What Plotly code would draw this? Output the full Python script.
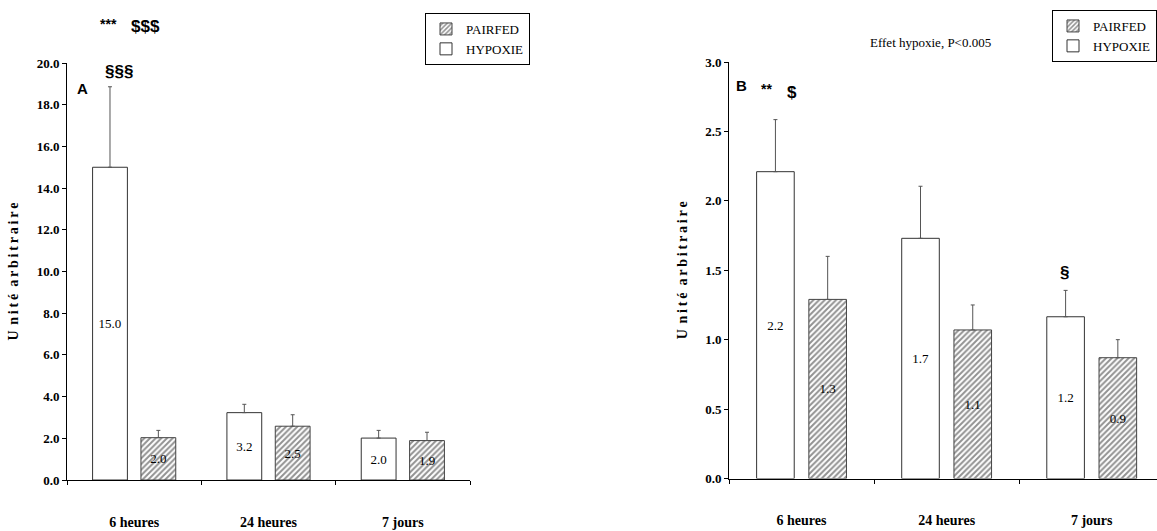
import plotly.graph_objects as go

W, H = 1157, 531

categories = ["6 heures", "24 heures", "7 jours"]

# Panel A
hyp_A = [15.0, 3.23, 2.01]
hyp_A_err = [3.86, 0.40, 0.37]
hyp_A_lbl = ["15.0", "3.2", "2.0"]
pf_A = [2.03, 2.58, 1.89]
pf_A_err = [0.35, 0.55, 0.40]
pf_A_lbl = ["2.0", "2.5", "1.9"]

# Panel B
hyp_B = [2.21, 1.73, 1.165]
hyp_B_err = [0.375, 0.375, 0.19]
hyp_B_lbl = ["2.2", "1.7", "1.2"]
pf_B = [1.29, 1.07, 0.87]
pf_B_err = [0.31, 0.18, 0.13]
pf_B_lbl = ["1.3", "1.1", "0.9"]

SERIF = "Liberation Serif, Times New Roman, serif"
SANS = "Liberation Sans Narrow, Liberation Sans, Arial, sans-serif"


def px(x):
    return x / W


def py(y):
    return 1 - y / H


fig = go.Figure()


def add_panel(xa, ya, hyp, hyp_err, hyp_lbl, pf, pf_err, pf_lbl, legend):
    err_style = dict(type="data", symmetric=False, arrayminus=[0] * 3,
                     color="#555555", thickness=1, width=2)
    fig.add_trace(go.Bar(
        x=categories, y=hyp, name="HYPOXIE", xaxis=xa, yaxis=ya, legend=legend,
        marker=dict(color="white", line=dict(color="#333333", width=1)),
        error_y=dict(array=hyp_err, **err_style),
        text=hyp_lbl, textposition="inside", insidetextanchor="middle",
        textfont=dict(family=SERIF, size=13, color="black"),
        constraintext="none", hoverinfo="y",
    ))
    fig.add_trace(go.Bar(
        x=categories, y=pf, name="PAIRFED", xaxis=xa, yaxis=ya, legend=legend,
        marker=dict(color="white", line=dict(color="#444444", width=1),
                    pattern=dict(shape="/", fgcolor="#262626", bgcolor="white",
                                 size=4, solidity=0.5)),
        error_y=dict(array=pf_err, **err_style),
        text=pf_lbl, textposition="inside", insidetextanchor="middle",
        textfont=dict(family=SERIF, size=13, color="black"),
        constraintext="none", hoverinfo="y",
    ))


add_panel("x", "y", hyp_A, hyp_A_err, hyp_A_lbl, pf_A, pf_A_err, pf_A_lbl, "legend")
add_panel("x2", "y2", hyp_B, hyp_B_err, hyp_B_lbl, pf_B, pf_B_err, pf_B_lbl, "legend2")

xcommon = dict(showgrid=False, zeroline=False, showline=True, linecolor="black",
               linewidth=1, ticks="outside", ticklen=4, tickcolor="black",
               tickson="boundaries", automargin=False, ticklabelstandoff=29,
               tickfont=dict(family=SERIF, size=14, color="black", weight="bold"))
ytitle_font = dict(family=SERIF, size=14, color="black", weight="bold")
ycommon = dict(showgrid=False, zeroline=False, showline=True, linecolor="black",
               linewidth=1, ticks="outside", ticklen=4, tickcolor="black",
               automargin=False, tickformat=".1f",
               tickfont=dict(family=SERIF, size=13, color="black", weight="bold"))

ydom = [py(480), py(63)]
ts = "\u2009"
ytitle_text = ("U" + ts * 2 + ts.join("nité") + "  " + ts.join("arbitraire"))

legend_common = dict(bordercolor="black", borderwidth=1, bgcolor="white",
                     font=dict(family=SERIF, size=13, color="black"),
                     traceorder="reversed", itemwidth=30, tracegroupgap=0,
                     yanchor="top")

fig.update_layout(
    width=W, height=H,
    margin=dict(l=0, r=0, t=0, b=0),
    paper_bgcolor="white", plot_bgcolor="white",
    barmode="group", bargap=0.28, bargroupgap=0.28,
    xaxis=dict(domain=[px(67), px(470)], range=[-0.5, 2.5], **xcommon),
    yaxis=dict(domain=ydom, range=[0, 20], dtick=2,
               title=dict(text=ytitle_text, font=ytitle_font, standoff=14),
               **ycommon),
    xaxis2=dict(domain=[px(729), 1.0], range=[-0.5, 2.45], anchor="y2", **xcommon),
    yaxis2=dict(domain=[py(478.5), py(62)], range=[0, 3], dtick=0.5, anchor="x2",
                title=dict(text=ytitle_text, font=ytitle_font, standoff=14),
                **ycommon),
    legend=dict(x=px(425), y=py(13), xanchor="left", **legend_common),
    legend2=dict(x=1.0, y=py(10), xanchor="right", **legend_common),
    showlegend=True,
)

ann = [
    ("***", 108, 24, SANS, 14),
    ("$$$", 145, 27, SANS, 17),
    ("§§§", 119, 71, SANS, 17),
    ("A", 82, 89, SANS, 15),
    ("B", 741, 85, SANS, 15),
    ("**", 766, 89, SANS, 14),
    ("$", 792, 92, SANS, 17),
    ("§", 1064, 272, SANS, 17),
]
for t, x, y, fam, sz in ann:
    fig.add_annotation(text=t, x=px(x), y=py(y), xref="paper", yref="paper",
                       showarrow=False, xanchor="center", yanchor="middle",
                       font=dict(family=fam, size=sz, color="black", weight="bold"))

fig.add_annotation(text="Effet hypoxie, P&lt;0.005", x=px(930), y=py(42),
                   xref="paper", yref="paper", showarrow=False,
                   xanchor="center", yanchor="middle",
                   font=dict(family=SERIF, size=13, color="black"))

fig.write_html("out.html", config={"displayModeBar": False},
               post_script="document.body.style.margin='0px';")
